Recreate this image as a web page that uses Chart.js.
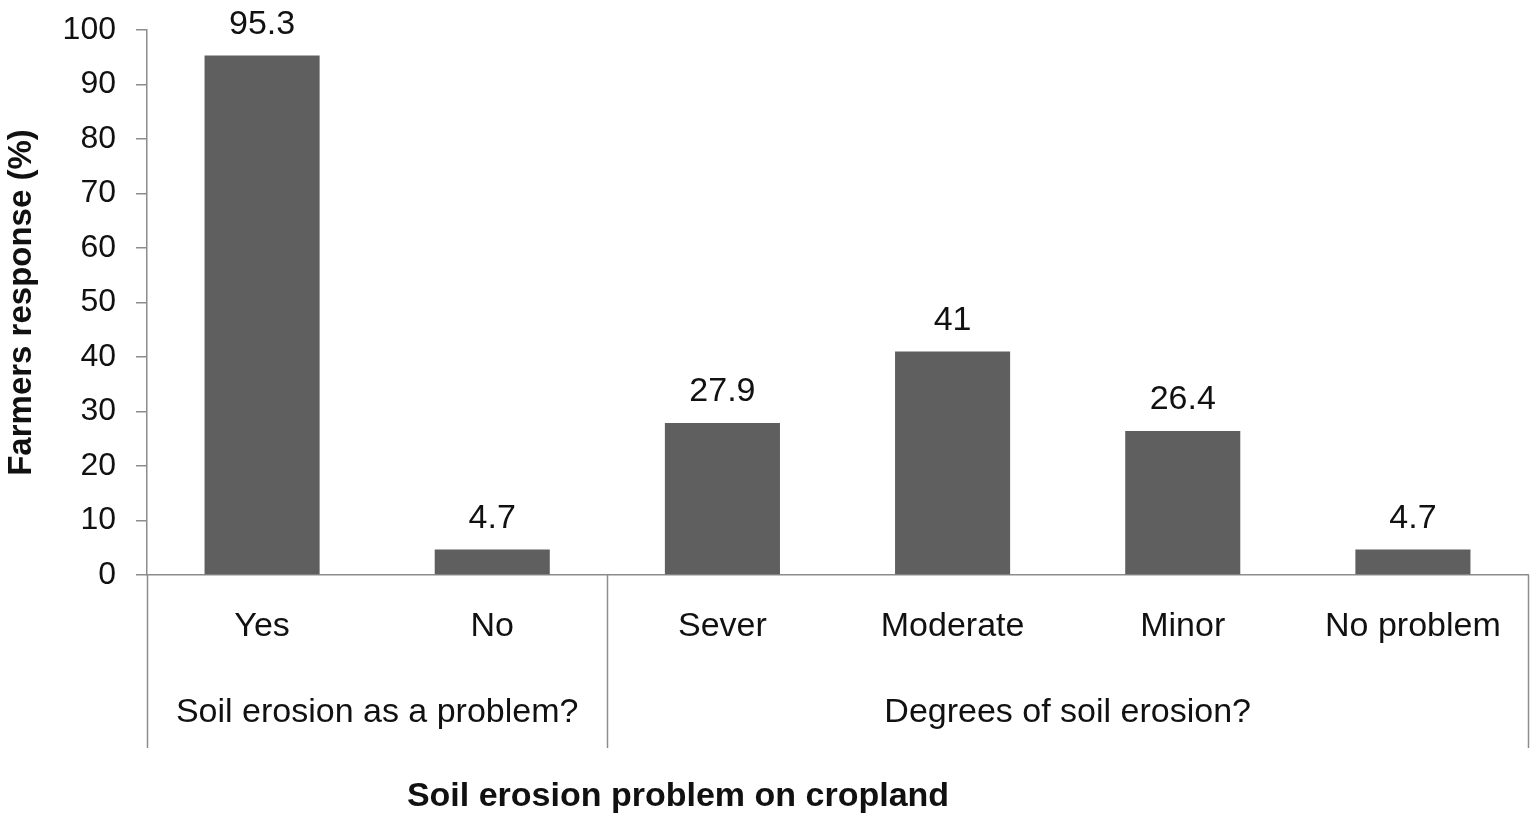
<!DOCTYPE html>
<html>
<head>
<meta charset="utf-8">
<script src="https://cdn.jsdelivr.net/npm/chart.js@4"></script>
<style>
  html, body { margin: 0; padding: 0; background: #fff; }
  #wrap { width: 1536px; height: 826px; }
</style>
</head>
<body>
<div id="wrap"><canvas id="chart"></canvas></div>
<script>
// chart data
const categories = ['Yes', 'No', 'Sever', 'Moderate', 'Minor', 'No problem'];
const responses = [95.3, 4.7, 27.9, 41, 26.4, 4.7];
const valueLabels = ['95.3', '4.7', '27.9', '41', '26.4', '4.7'];
const groupNames = ['Soil erosion as a problem?', 'Degrees of soil erosion?'];
const groupSizes = [2, 4];
const yTicks = [0, 10, 20, 30, 40, 50, 60, 70, 80, 90, 100];

const FONT = '"Liberation Sans", Arial, sans-serif';
const LINE = '#8c8c8c';

// value labels, group row, separators and the bottom title
const extras = {
  id: 'extras',
  afterDatasetsDraw(chart) {
    const { ctx, chartArea } = chart;
    const meta = chart.getDatasetMeta(0);
    ctx.save();
    ctx.fillStyle = '#111';
    ctx.font = '34px ' + FONT;
    ctx.textAlign = 'center';
    ctx.textBaseline = 'bottom';
    meta.data.forEach((bar, i) => {
      ctx.fillText(valueLabels[i], bar.x, bar.y - 14);
    });

    // group separators
    const band = (chartArea.right - chartArea.left) / categories.length;
    const sepBottom = 748;
    ctx.strokeStyle = LINE;
    ctx.lineWidth = 1.5;
    let start = 0;
    const edges = [0];
    groupSizes.forEach(n => { start += n; edges.push(start); });
    edges.forEach(e => {
      const px = Math.round(chartArea.left + e * band) + 0.5;
      ctx.beginPath();
      ctx.moveTo(px, chartArea.bottom);
      ctx.lineTo(px, sepBottom);
      ctx.stroke();
    });

    // group names
    ctx.textBaseline = 'middle';
    ctx.fillStyle = '#111';
    groupNames.forEach((g, i) => {
      const cx = chartArea.left + (edges[i] + edges[i + 1]) / 2 * band;
      ctx.fillText(g, cx, 713);
    });

    // bottom title
    ctx.font = 'bold 34px ' + FONT;
    ctx.fillText('Soil erosion problem on cropland', 678, 797);
    ctx.restore();
  }
};

new Chart(document.getElementById('chart'), {
  type: 'bar',
  data: {
    labels: categories,
    datasets: [{
      data: responses,
      backgroundColor: '#5f5f5f',
      borderWidth: 0,
      categoryPercentage: 1,
      barPercentage: 0.5
    }]
  },
  options: {
    responsive: true,
    maintainAspectRatio: false,
    animation: false,
    layout: { padding: { left: 0, right: 8, top: 30, bottom: 0 } },
    plugins: {
      legend: { display: false },
      tooltip: { enabled: false }
    },
    scales: {
      x: {
        grid: { display: false },
        border: { color: LINE, width: 1.5 },
        ticks: {
          color: '#111',
          font: { family: FONT, size: 34 },
          padding: 23,
          maxRotation: 0
        },
        afterFit(scale) { scale.height = 251; }
      },
      y: {
        min: 0,
        max: 100,
        afterBuildTicks(scale) { scale.ticks = yTicks.map(v => ({ value: v })); },
        grid: {
          drawOnChartArea: false,
          drawTicks: true,
          tickLength: 11,
          color: LINE,
          lineWidth: 1.5
        },
        border: { color: LINE, width: 1.5 },
        ticks: {
          color: '#111',
          font: { family: FONT, size: 32 },
          padding: 20
        },
        title: {
          display: true,
          text: 'Farmers response (%)',
          color: '#111',
          font: { family: FONT, size: 33, weight: 'bold' },
          padding: { top: 2, bottom: 0 }
        },
        afterFit(scale) {
          scale.width = 147;
          scale.paddingTop = 0;
          scale.paddingBottom = 0;
        }
      }
    }
  },
  plugins: [extras]
});
</script>
</body>
</html>
